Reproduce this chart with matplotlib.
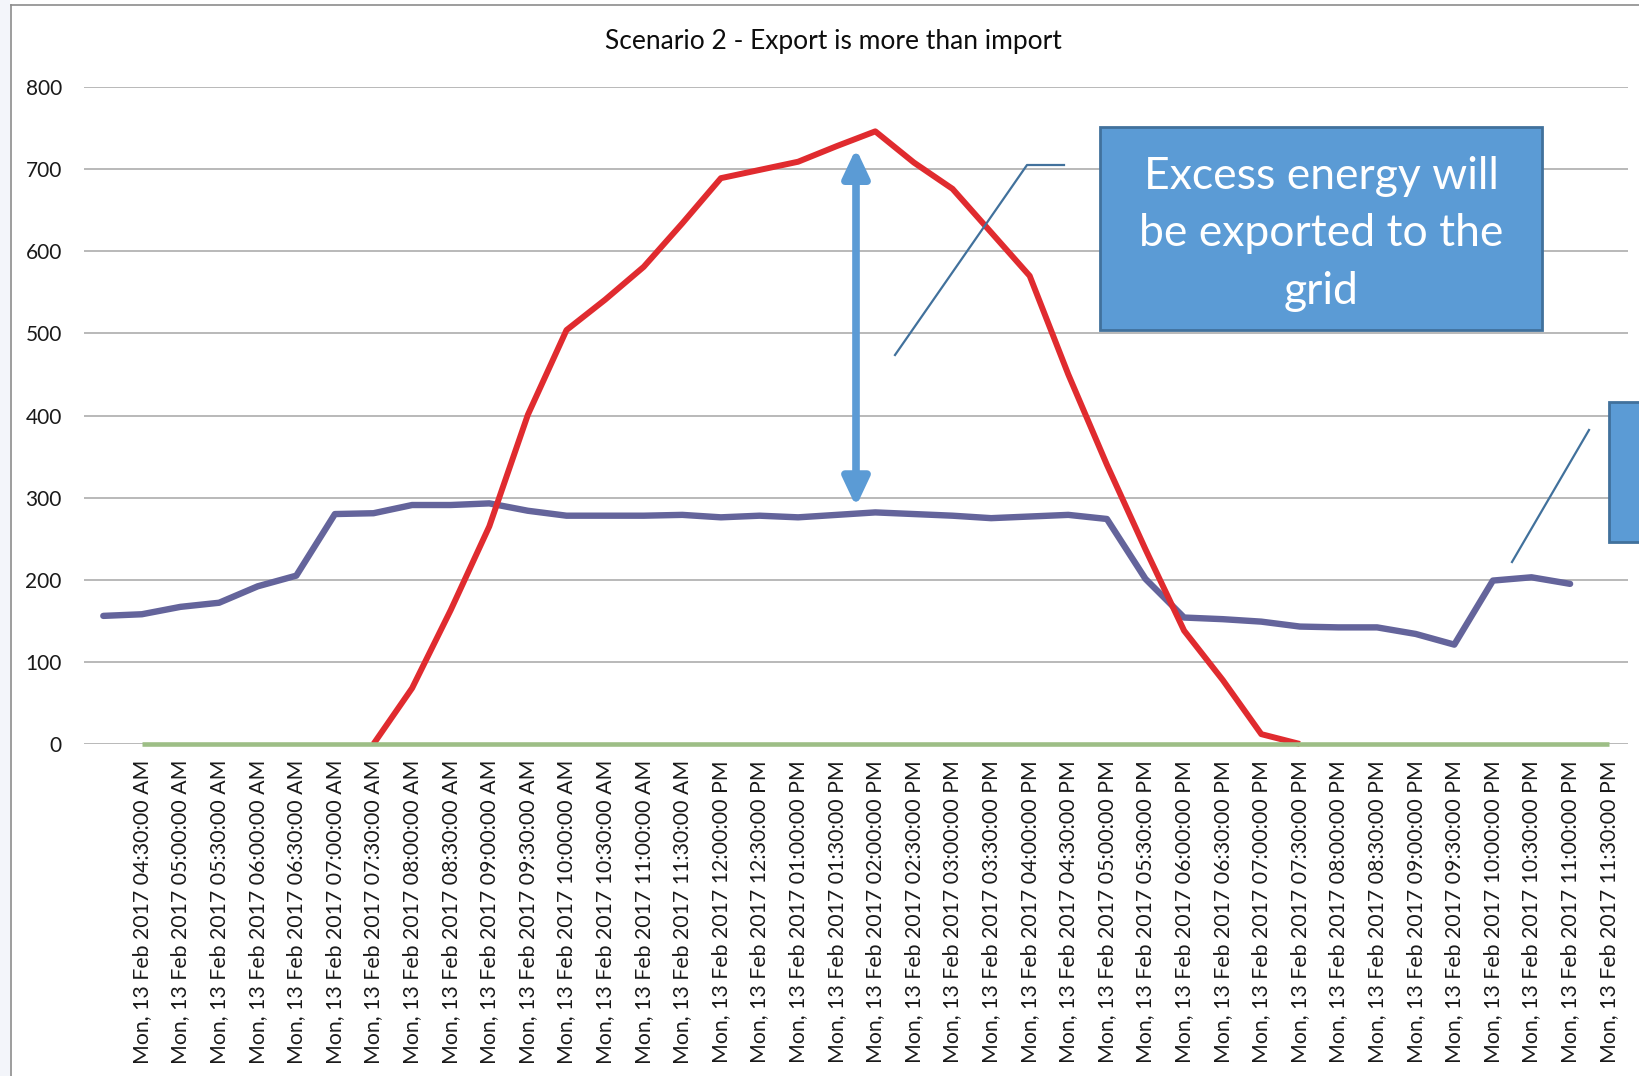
import numpy as np
import matplotlib
matplotlib.use("Agg")
import matplotlib.pyplot as plt
from matplotlib.patches import Rectangle, FancyArrowPatch
from matplotlib.lines import Line2D

plt.rcParams['font.family'] = ['Lato', 'DejaVu Sans']

# ---------------- data ----------------
time_labels = [
    "",
    "Mon, 13 Feb 2017 04:30:00 AM", "Mon, 13 Feb 2017 05:00:00 AM", "Mon, 13 Feb 2017 05:30:00 AM",
    "Mon, 13 Feb 2017 06:00:00 AM", "Mon, 13 Feb 2017 06:30:00 AM", "Mon, 13 Feb 2017 07:00:00 AM",
    "Mon, 13 Feb 2017 07:30:00 AM", "Mon, 13 Feb 2017 08:00:00 AM", "Mon, 13 Feb 2017 08:30:00 AM",
    "Mon, 13 Feb 2017 09:00:00 AM", "Mon, 13 Feb 2017 09:30:00 AM", "Mon, 13 Feb 2017 10:00:00 AM",
    "Mon, 13 Feb 2017 10:30:00 AM", "Mon, 13 Feb 2017 11:00:00 AM", "Mon, 13 Feb 2017 11:30:00 AM",
    "Mon, 13 Feb 2017 12:00:00 PM", "Mon, 13 Feb 2017 12:30:00 PM", "Mon, 13 Feb 2017 01:00:00 PM",
    "Mon, 13 Feb 2017 01:30:00 PM", "Mon, 13 Feb 2017 02:00:00 PM", "Mon, 13 Feb 2017 02:30:00 PM",
    "Mon, 13 Feb 2017 03:00:00 PM", "Mon, 13 Feb 2017 03:30:00 PM", "Mon, 13 Feb 2017 04:00:00 PM",
    "Mon, 13 Feb 2017 04:30:00 PM", "Mon, 13 Feb 2017 05:00:00 PM", "Mon, 13 Feb 2017 05:30:00 PM",
    "Mon, 13 Feb 2017 06:00:00 PM", "Mon, 13 Feb 2017 06:30:00 PM", "Mon, 13 Feb 2017 07:00:00 PM",
    "Mon, 13 Feb 2017 07:30:00 PM", "Mon, 13 Feb 2017 08:00:00 PM", "Mon, 13 Feb 2017 08:30:00 PM",
    "Mon, 13 Feb 2017 09:00:00 PM", "Mon, 13 Feb 2017 09:30:00 PM", "Mon, 13 Feb 2017 10:00:00 PM",
    "Mon, 13 Feb 2017 10:30:00 PM", "Mon, 13 Feb 2017 11:00:00 PM", "Mon, 13 Feb 2017 11:30:00 PM",
]

consumption = [156, 158, 167, 172, 192, 205, 280, 281, 291, 291,
               293, 284, 278, 278, 278, 279, 276, 278, 276, 279,
               282, 280, 278, 275, 277, 279, 274, 201, 154, 152,
               149, 143, 142, 142, 134, 121, 199, 203, 195, None]

generation = [None, None, None, None, None, None, None, 0, 68, 163,
              265, 401, 504, 541, 581, 634, 689, 699, 709, 728,
              746, 708, 676, 623, 570, 450, 340, 237, 138, 78,
              12, 0, None, None, None, None, None, None, None, None]

third_series = [None] + [0] * 39

title_text = "Scenario 2 - Export is more than import"
callout_text = "Excess energy will\nbe exported to the\ngrid"
y_ticks = [0, 100, 200, 300, 400, 500, 600, 700, 800]

# ---------------- figure ----------------
W, H = 1639, 1076
fig = plt.figure(figsize=(W / 100, H / 100), dpi=100)
fig.patch.set_facecolor('white')

def fx(px):
    return px / W

def fy(py):
    return 1 - py / H

ax = fig.add_axes([fx(84), fy(744), (1628 - 84) / W, (744 - 87) / H])
ax.set_facecolor('none')

x = np.arange(len(time_labels))

def arr(v):
    return np.array([np.nan if e is None else e for e in v], dtype=float)

ax.plot(x, arr(consumption), color='#64649B', lw=4.6, solid_joinstyle='round',
        solid_capstyle='round', zorder=3, clip_on=False)
ax.plot(x, arr(generation), color='#E02B2F', lw=4.3, solid_joinstyle='round',
        solid_capstyle='butt', zorder=4, clip_on=False)
ax.plot(x, arr(third_series), color='#9DBE86', lw=3.3, solid_capstyle='butt',
        zorder=5, clip_on=False)

ax.set_xlim(-0.5, len(time_labels) - 0.5)
ax.set_ylim(0, 800)
ax.set_yticks(y_ticks)
ax.set_yticklabels([str(v) for v in y_ticks])
ax.set_xticks(x)
ax.set_xticklabels(time_labels, rotation=90, va='top', ha='center')
ax.tick_params(axis='y', length=0, pad=16, labelsize=15, labelcolor='#1a1a1a')
ax.tick_params(axis='x', length=0, pad=11.5, labelsize=15.3, labelcolor='#1a1a1a')
ax.grid(axis='y', color='#A6A6A6', lw=1.1, zorder=1)
ax.set_axisbelow(True)
for s in ax.spines.values():
    s.set_visible(False)

# chart frame and light background
fig.add_artist(Rectangle((0, 0), fx(10), 1, transform=fig.transFigure,
                         facecolor='#F3F5FA', edgecolor='none', zorder=0))
fig.add_artist(Line2D([fx(10.5), fx(10.5)], [0, fy(5)], transform=fig.transFigure,
                      color='#8C8C8C', lw=1.2))
fig.add_artist(Line2D([fx(10.5), 1], [fy(5), fy(5)], transform=fig.transFigure,
                      color='#8C8C8C', lw=1.2))

# title
fig.text(fx(833), fy(42), title_text, ha='center', va='center', fontsize=19, color='#0d0d0d')

# double arrow
arrow = FancyArrowPatch((19.5, 289), (19.5, 725),
                        arrowstyle='<|-|>,head_length=17,head_width=8',
                        mutation_scale=1, lw=5.5, color='#5B9BD5',
                        shrinkA=0, shrinkB=0, zorder=6)
ax.add_patch(arrow)

# callout box 1
fig.add_artist(Rectangle((fx(1100), fy(330)), (1542 - 1100) / W, (330 - 127) / H,
                         transform=fig.transFigure, facecolor='#5B9BD5',
                         edgecolor='#41719C', lw=2, zorder=7))
fig.text(fx(1321), fy(234), callout_text, ha='center', va='center', fontsize=32,
         color='white', linespacing=1.5, zorder=8)
fig.add_artist(Line2D([fx(1064), fx(1027), fx(895)], [fy(165), fy(165), fy(355)],
                      transform=fig.transFigure, color='#41719C', lw=1.6, zorder=7))

# callout box 2 (cut at right edge)
fig.add_artist(Rectangle((fx(1609), fy(542)), (1700 - 1609) / W, (542 - 402) / H,
                         transform=fig.transFigure, facecolor='#5B9BD5',
                         edgecolor='#41719C', lw=2, zorder=7))
fig.add_artist(Line2D([fx(1589), fx(1512)], [fy(430), fy(562)],
                      transform=fig.transFigure, color='#41719C', lw=1.6, zorder=7))

fig.savefig('out.png', dpi=100)
